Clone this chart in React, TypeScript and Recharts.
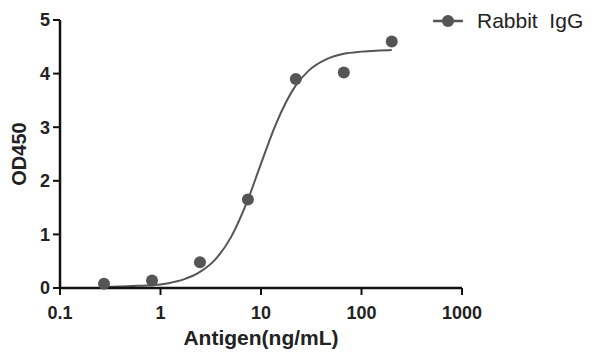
import { ComposedChart, Line, Scatter, XAxis, YAxis } from "recharts";

// measured points (3-fold dilution series)
const concentrations = [0.274, 0.823, 2.47, 7.41, 22.2, 66.7, 200];
const odValues = [0.08, 0.14, 0.48, 1.65, 3.9, 4.02, 4.6];

// fitted curve
const curveX = [0.274, 0.4, 0.6, 0.823, 1.2, 1.7, 2.47, 3.5, 5, 7.41, 10, 14, 22.2, 30, 45, 66.7, 100, 150, 200];
const curveY = [0.02, 0.03, 0.04, 0.05, 0.09, 0.16, 0.3, 0.53, 0.94, 1.65, 2.32, 3.05, 3.78, 4.06, 4.27, 4.37, 4.41, 4.43, 4.44];

const xTicks = [0.1, 1, 10, 100, 1000];
const yTicks = [0, 1, 2, 3, 4, 5];

const seriesName = "Rabbit  IgG";
const grey = "#555555";
const font = "'Liberation Sans', Arial, sans-serif";

const points = concentrations.map((x, i) => ({ x, y: odValues[i] }));
const curve = curveX.map((x, i) => ({ x, y: curveY[i] }));

const YTitle = (props: any) => {
  const vb = props.viewBox || {};
  const cx = vb.x + 19;
  const cy = vb.y + vb.height / 2;
  return (
    <text
      x={cx}
      y={cy}
      transform={`rotate(-90, ${cx}, ${cy})`}
      textAnchor="middle"
      dominantBaseline="central"
      fill="#222"
      fontSize={20}
      fontWeight={700}
      fontFamily={font}
    >
      OD450
    </text>
  );
};

export default function App() {
  return (
    <div
      style={{
        position: "absolute",
        left: 0,
        top: 0,
        width: 599,
        height: 360,
        background: "#fff",
      }}
    >
      <ComposedChart
        width={599}
        height={360}
        margin={{ top: 20, right: 137, left: 0, bottom: 22 }}
      >
        <XAxis
          dataKey="x"
          type="number"
          scale="log"
          domain={[0.1, 1000]}
          allowDataOverflow
          ticks={xTicks}
          height={50}
          tickSize={7}
          tickMargin={11}
          axisLine={{ stroke: "#111", strokeWidth: 2.5 }}
          tickLine={{ stroke: "#111", strokeWidth: 2 }}
          tick={{ fill: "#222", fontSize: 18, fontWeight: 700, fontFamily: font }}
          label={{
            value: "Antigen(ng/mL)",
            position: "bottom",
            offset: -8,
            fill: "#222",
            fontSize: 21,
            fontWeight: 700,
            fontFamily: font,
          }}
        />
        <YAxis
          type="number"
          domain={[0, 5]}
          ticks={yTicks}
          width={60}
          tickSize={7}
          tickMargin={3}
          axisLine={{ stroke: "#111", strokeWidth: 2.5 }}
          tickLine={{ stroke: "#111", strokeWidth: 2 }}
          tick={{ fill: "#222", fontSize: 18, fontWeight: 700, fontFamily: font }}
          label={<YTitle />}
        />
        <Line
          data={curve}
          dataKey="y"
          type="monotone"
          stroke={grey}
          strokeWidth={2}
          dot={false}
          activeDot={false}
          isAnimationActive={false}
        />
        <Scatter
          data={points}
          dataKey="y"
          fill={grey}
          shape={(p: any) => <circle cx={p.cx} cy={p.cy} r={6} fill={grey} />}
          isAnimationActive={false}
        />
      </ComposedChart>
      <div
        style={{
          position: "absolute",
          left: 433,
          top: 9,
          display: "flex",
          alignItems: "center",
          fontFamily: font,
          fontSize: 21,
          color: "#222",
          whiteSpace: "pre",
        }}
      >
        <svg width={30} height={14}>
          <line x1={0} y1={7} x2={30} y2={7} stroke={grey} strokeWidth={2.5} />
          <circle cx={15} cy={7} r={6} fill={grey} />
        </svg>
        <span style={{ marginLeft: 14 }}>{seriesName}</span>
      </div>
    </div>
  );
}
